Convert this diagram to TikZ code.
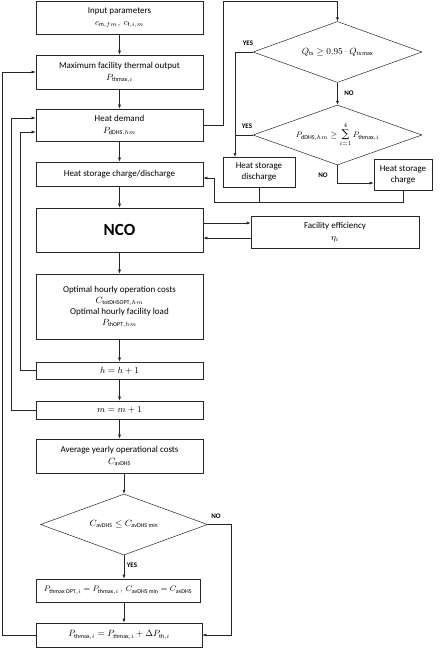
\documentclass[tikz,border=0pt]{standalone}
\usepackage{fontspec}
\setmainfont{Carlito}
\newfontfamily\symfont{DejaVu Serif}
\usetikzlibrary{shapes.geometric,arrows.meta}
\tikzset{
  blk/.style={draw=black!85, line width=0.6pt, minimum width=167pt, align=center, inner sep=1pt},
  dia/.style={draw=black!85, line width=0.5pt, diamond, aspect=2.8, inner sep=0pt, minimum width=169pt},
  ln/.style={draw=black!85, line width=0.5pt},
  arr/.style={ln, -{Latex[length=4pt,width=3pt]}},
  lbl/.style={font=\fontsize{7}{8}\selectfont\bfseries}
}
\newcommand{\sumop}{\mathop{\hbox{\symfont\fontsize{11}{11}\selectfont ∑}}\limits}
\begin{document}
\begin{tikzpicture} [x=1pt,y=-1pt,font=\fontsize{9}{11}\selectfont]
		\useasboundingbox (0,0) rectangle (445,648);
		\node [blk, minimum height=33pt] (inp) at (119.5,17.5) {Input parameters\\[1pt] $c_{\mathrm{m},fm},\ c_{\mathrm{f},i,m}$};
		\node [blk, minimum height=34pt] (pmax) at (119.5,72) {Maximum facility thermal output\\[1pt] $P_{\mathrm{thmax},i}$};
		\node [blk, minimum height=32pt] (dem) at (119.5,125) {Heat demand\\[1pt] $P_{\mathrm{dDHS},hm}$};
		\node [blk, minimum height=24pt] (hs) at (119.5,174) {Heat storage charge/discharge};
		\node [blk, minimum height=44pt, font=\fontsize{17}{19}\selectfont\bfseries] (nco) at (119.5,230) {NCO};
		\node [blk, minimum width=168pt, minimum height=32pt] (eff) at (335,232) {Facility efficiency\\[1pt] $\eta_i$};
		\node [blk, minimum height=65pt] (opt) at (119.5,306.5) {Optimal hourly operation costs\\ $C_{\mathrm{totDHSOPT},hm}$\\ Optimal hourly facility load\\ $P_{\mathrm{thOPT},hm}$};
		\node [blk, minimum height=17pt] (hh) at (119.5,370.5) {$h=h+1$};
		\node [blk, minimum height=18pt] (mm) at (119.5,410) {$m=m+1$};
		\node [blk, minimum height=34pt] (avg) at (119.5,456) {Average yearly operational costs\\[1pt] $C_{\mathrm{avDHS}}$};
		\node [dia, minimum width=167pt, minimum height=61pt] (cmp) at (124,524.5) {$C_{\mathrm{avDHS}}\leq C_{\mathrm{avDHS\,min}}$};
		\node [blk, minimum width=164pt, minimum height=23pt, font=\fontsize{8.5}{10}\selectfont] (popt) at (118,590.5) {$P_{\mathrm{thmax\,OPT},i}=P_{\mathrm{thmax},i}\,,\ C_{\mathrm{avDHS\,min}}=C_{\mathrm{avDHS}}$};
		\node [blk, minimum width=166pt, minimum height=24pt] (pinc) at (119,635) {$P_{\mathrm{thmax},i}=P_{\mathrm{thmax},i}+\Delta P_{\mathrm{th},i}$};
		\node [dia, minimum height=61pt] (qts) at (337.5,52) {$Q_{\mathrm{ts}}\geq 0{,}95\cdot Q_{\mathrm{ts\,max}}$};
		\node [dia, minimum height=60pt, font=\fontsize{8}{9}\selectfont] (psum) at (337.5,135) {$P_{\mathrm{dDHS},hm}\geq\sumop_{i=1}^{4}P_{\mathrm{thmax},i}$};
		\node [blk, minimum width=72pt, minimum height=30pt] (dis) at (259,172) {Heat storage\\ discharge};
		\node [blk, minimum width=58pt, minimum height=31pt] (chg) at (403,175) {Heat storage\\ charge};
		\node [lbl] (yes1) at (248,43) {YES};
		\node [lbl] (no1) at (349,93) {NO};
		\node [lbl] (yes2) at (247,126) {YES};
		\node [lbl] (no2) at (323,175) {NO};
		\node [lbl] (no3) at (216,516) {NO};
		\node [lbl] (yes3) at (132,565) {YES};
		\coordinate (ret) at (214,202);
		\coordinate (dsin) at (235,157);
		\draw [arr] (inp) -- (pmax);
		\draw [arr] (pmax) -- (dem);
		\draw [arr] (dem) -- (hs);
		\draw [arr] (hs) -- (nco);
		\draw [arr] (nco) -- (opt);
		\draw [arr] (opt) -- (hh);
		\draw [arr] (hh) -- (mm);
		\draw [arr] (mm) -- (avg);
		\draw [arr] (avg.south -| cmp.north) -- (cmp.north);
		\draw [arr] (cmp.south) -- (cmp.south |- popt.north);
		\draw [arr] (cmp.south |- popt.south) -- (cmp.south |- pinc.north);
		\draw [arr] (cmp.east) -- ++(23,0) |- (pinc.east);
		\draw [arr] (pinc.west) -- ++(-33,0) |- (pmax.west);
		\draw [arr] (mm.west) -- ++(-24,0) |- ([yshift=7pt]dem.west);
		\draw [arr] (hh.west) -- ++(-15,0) |- ([yshift=-7pt]dem.west);
		\draw [arr] (dem.east) -- ++(20,0) |- ([yshift=20pt]qts.north) -- (qts.north);
		\draw [arr] (qts) -- (psum);
		\draw [arr] (qts.west) -| (dsin);
		\draw [ln] (psum.west) -- (psum.west -| dsin);
		\draw [arr] (psum.south) |- ([yshift=-8pt]chg.west);
		\draw [arr] (chg.south) |- (ret) |- ([yshift=-4pt]hs.east);
		\draw [ln] (dis.south) -- (dis.south |- ret);
		\draw [arr] ([yshift=7pt]nco.east) -- ([yshift=7pt]nco.east -| eff.west);
		\draw [arr] ([yshift=-8pt]nco.east -| eff.west) -- ([yshift=-8pt]nco.east);
	\end{tikzpicture}
\end{document}
